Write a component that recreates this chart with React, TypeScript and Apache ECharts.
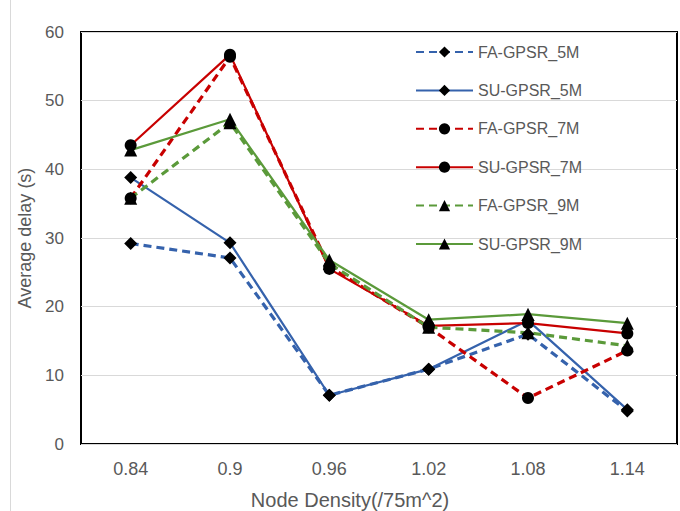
import React, { useEffect, useRef } from "react";
import * as echarts from "echarts";

const categories = ["0.84", "0.9", "0.96", "1.02", "1.08", "1.14"];
const faGpsr5M = [29.2, 27.1, 7.1, 10.9, 16.0, 4.8];
const suGpsr5M = [38.8, 29.3, 7.1, 10.9, 18.0, 5.0];
const faGpsr7M = [35.8, 56.4, 25.8, 17.0, 6.7, 13.6];
const suGpsr7M = [43.5, 56.7, 25.5, 17.2, 17.6, 16.1];
const faGpsr9M = [35.8, 46.8, 26.3, 17.0, 16.2, 14.3];
const suGpsr9M = [42.8, 47.3, 26.8, 18.1, 18.9, 17.6];
const yTicks = [0, 10, 20, 30, 40, 50, 60];
const xTitle = "Node Density(/75m^2)";
const yTitle = "Average delay (s)";

const BLUE = "#3562AC";
const RED = "#C80000";
const GREEN = "#5B9A3A";
const FONT = "Liberation Sans";
const TXT = "#595959";

export default function App() {
  const ref = useRef<HTMLDivElement>(null);
  useEffect(() => {
    document.body.style.margin = "0";
    if (!ref.current) return;
    const chart = echarts.init(ref.current, null, { renderer: "svg" });
    const mk = (
      name: string,
      data: number[],
      color: string,
      dashed: boolean,
      symbol: string,
      size: number
    ) => ({
      name,
      type: "line",
      data,
      symbol,
      symbolSize: size,
      showAllSymbol: true,
      itemStyle: { color: "#000", borderWidth: 0 },
      lineStyle: {
        color,
        width: dashed ? 3.2 : 2.2,
        type: dashed ? [8, 5] : "solid",
      },
      emphasis: { disabled: true },
    });
    chart.setOption({
      animation: false,
      backgroundColor: "#fff",
      textStyle: { fontFamily: FONT },
      grid: {
        left: 81,
        right: 3,
        top: 32,
        bottom: 67,
        show: true,
        borderColor: "#000",
        borderWidth: 2,
        backgroundColor: "transparent",
      },
      legend: {
        orient: "vertical",
        left: 410,
        top: 38,
        itemWidth: 57,
        itemHeight: 14,
        itemGap: 20.4,
        textStyle: { color: TXT, fontSize: 16, fontFamily: FONT, lineHeight: 18 },
        data: [
          "FA-GPSR_5M",
          "SU-GPSR_5M",
          "FA-GPSR_7M",
          "SU-GPSR_7M",
          "FA-GPSR_9M",
          "SU-GPSR_9M",
        ],
      },
      xAxis: {
        type: "category",
        data: categories,
        boundaryGap: true,
        axisLine: { show: false },
        axisTick: { show: false },
        axisLabel: { color: TXT, fontSize: 18, margin: 16, fontFamily: FONT },
      },
      yAxis: {
        type: "value",
        min: yTicks[0],
        max: yTicks[yTicks.length - 1],
        interval: 10,
        axisLine: { show: false },
        axisTick: { show: false },
        splitLine: { lineStyle: { color: "#d9d9d9", width: 1 } },
        axisLabel: { color: TXT, fontSize: 17, margin: 17, fontFamily: FONT },
        name: yTitle,
        nameLocation: "middle",
        nameGap: 43,
        nameTextStyle: { color: TXT, fontSize: 18, fontFamily: FONT },
      },
      graphic: [
        {
          type: "line",
          shape: { x1: 10.5, y1: 0, x2: 10.5, y2: 511 },
          style: { stroke: "#d9d9d9", lineWidth: 1 },
          silent: true,
        },
        {
          type: "text",
          x: 350,
          y: 500,
          style: {
            text: xTitle,
            fill: TXT,
            font: `20px "${FONT}"`,
            align: "center",
            verticalAlign: "middle",
          },
          silent: true,
        },
      ],
      series: [
        mk("FA-GPSR_5M", faGpsr5M, BLUE, true, "diamond", 13),
        mk("SU-GPSR_5M", suGpsr5M, BLUE, false, "diamond", 13),
        mk("FA-GPSR_7M", faGpsr7M, RED, true, "circle", 12),
        mk("SU-GPSR_7M", suGpsr7M, RED, false, "circle", 12),
        mk("FA-GPSR_9M", faGpsr9M, GREEN, true, "triangle", 13),
        mk("SU-GPSR_9M", suGpsr9M, GREEN, false, "triangle", 13),
      ],
    });
    return () => chart.dispose();
  }, []);
  return <div ref={ref} style={{ width: 680, height: 511 }} />;
}
